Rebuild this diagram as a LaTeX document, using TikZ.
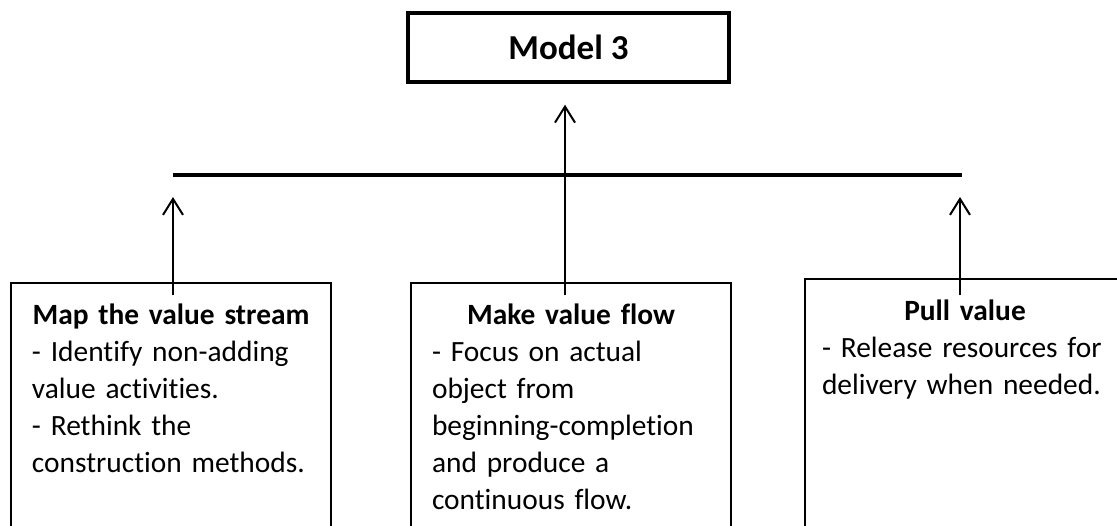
\documentclass[tikz,border=0pt]{standalone}
\usepackage{fontspec}
\setmainfont{Carlito}[Ligatures=NoCommon]
\usetikzlibrary{arrows.meta}

\begin{document}
\begin{tikzpicture}[x=0.5pt, y=-0.5pt,
  box/.style = {draw, line width=1pt, minimum width=160pt, minimum height=135pt, inner sep=0pt, anchor=north},
  boxtext/.style = {text width=139pt, align=left, inner sep=0pt, anchor=north, font=\fontsize{14.7}{18.5}\selectfont},
  up/.style = {-{Straight Barb[length=8pt, width=10pt]}, line width=1pt}]
\clip (0,0) rectangle (1117,525);
% top box
\node[draw, line width=1.7pt, minimum width=160.5pt, minimum height=34.5pt, font=\fontsize{17.5}{21}\selectfont\bfseries] (model) at (568.5,47.5) {Model 3};
% bar
\coordinate (barL) at (173,175);
\coordinate (barR) at (962,175);
\draw[line width=2pt] (barL) -- (barR);
% boxes
\node[box] (map) at (171,282) {};
\node[box] (flow) at (571,282) {};
\node[box] (pull) at (965,278) {};
\node[boxtext] (maptext) at ([yshift=-10.7pt]map.north) {\makebox[\linewidth][c]{\bfseries Map the value stream}\\- Identify non-adding\\value activities.\\- Rethink the\\construction methods.};
\node[boxtext] (flowtext) at ([yshift=-10.7pt]flow.north) {\makebox[\linewidth][c]{\bfseries Make value flow}\\- Focus on actual\\object from\\beginning-completion\\and produce a\\continuous flow.};
\node[boxtext, text width=143pt] (pulltext) at ([yshift=-10.7pt]pull.north) {\makebox[\linewidth][c]{\bfseries Pull value}\\- Release resources for\\delivery when needed.};
% arrows
\draw[up, shorten <=-6.5pt, shorten >=11pt] ([xshift=1pt]map.north) -- ([xshift=1pt]map.north |- barL);
\draw[up, shorten <=-6.5pt, shorten >=10.5pt] ([xshift=-3pt]flow.north) -- ([xshift=-3pt]flow.north |- model.south);
\draw[up, shorten <=-8.5pt, shorten >=11pt] ([xshift=-2.5pt]pull.north) -- ([xshift=-2.5pt]pull.north |- barR);
\end{tikzpicture}
\end{document}
